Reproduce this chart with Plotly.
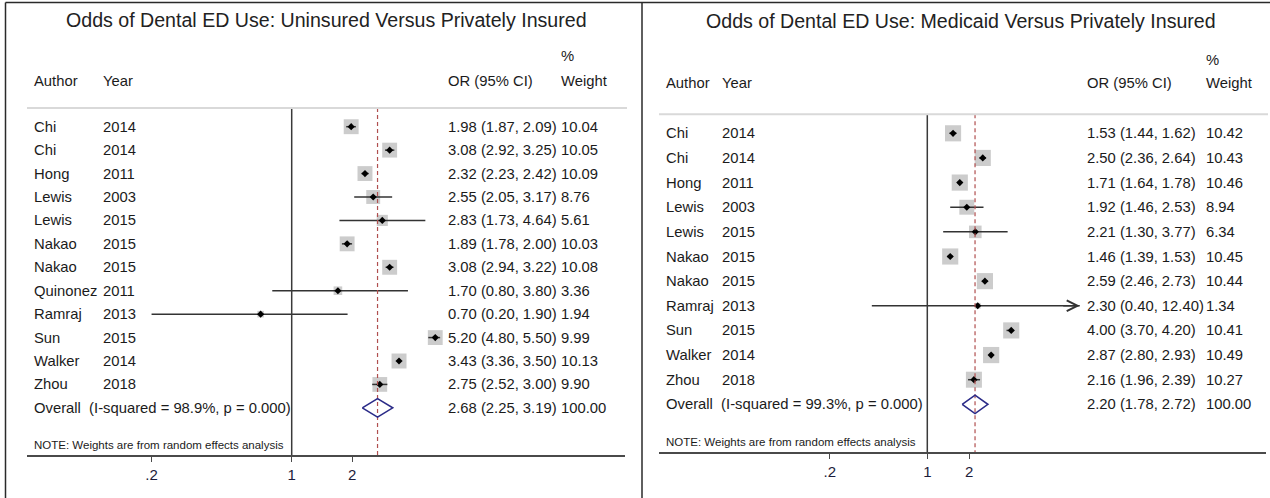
import numpy as np
import plotly.graph_objects as go

# ---------------- data ----------------
# Uninsured vs privately insured
unins_author = ["Chi", "Chi", "Hong", "Lewis", "Lewis", "Nakao", "Nakao",
                "Quinonez", "Ramraj", "Sun", "Walker", "Zhou"]
unins_year = [2014, 2014, 2011, 2003, 2015, 2015, 2015, 2011, 2013, 2015, 2014, 2018]
unins_or = [1.98, 3.08, 2.32, 2.55, 2.83, 1.89, 3.08, 1.70, 0.70, 5.20, 3.43, 2.75]
unins_lo = [1.87, 2.92, 2.23, 2.05, 1.73, 1.78, 2.94, 0.80, 0.20, 4.80, 3.36, 2.52]
unins_hi = [2.09, 3.25, 2.42, 3.17, 4.64, 2.00, 3.22, 3.80, 1.90, 5.50, 3.50, 3.00]
unins_weight = [10.04, 10.05, 10.09, 8.76, 5.61, 10.03, 10.08, 3.36, 1.94, 9.99, 10.13, 9.90]
unins_overall = [2.68, 2.25, 3.19]
unins_i2 = 98.9
unins_p = 0.000

# Medicaid vs privately insured
medic_author = ["Chi", "Chi", "Hong", "Lewis", "Lewis", "Nakao", "Nakao",
                "Ramraj", "Sun", "Walker", "Zhou"]
medic_year = [2014, 2014, 2011, 2003, 2015, 2015, 2015, 2013, 2015, 2014, 2018]
medic_or = [1.53, 2.50, 1.71, 1.92, 2.21, 1.46, 2.59, 2.30, 4.00, 2.87, 2.16]
medic_lo = [1.44, 2.36, 1.64, 1.46, 1.30, 1.39, 2.46, 0.40, 3.70, 2.80, 1.96]
medic_hi = [1.62, 2.64, 1.78, 2.53, 3.77, 1.53, 2.73, 12.40, 4.20, 2.93, 2.39]
medic_weight = [10.42, 10.43, 10.46, 8.94, 6.34, 10.45, 10.44, 1.34, 10.41, 10.49, 10.27]
medic_overall = [2.20, 1.78, 2.72]
medic_i2 = 99.3
medic_p = 0.000

tick_vals = [0.2, 1, 2]
tick_text = [".2", "1", "2"]

# ---------------- styling ----------------
W, H = 1270, 498
FONT = "Liberation Sans, Arial, sans-serif"
TXT = "#1b1b1b"
BOX = "#b7b7b7"
CI_COL = "#333333"
DIAMOND = "#2b2b88"
REF_DASH = "#b04f4f"
AXIS_COL = "#4a4a4a"
TEXT_DX = -2.5  # annotation boxes add a little left padding


def px(x):
    return x / W


def py(y):
    return 1 - y / H


fig = go.Figure()
annotations = []
shapes = []

panels = [
    dict(author=unins_author, year=unins_year, est=unins_or, lo=unins_lo, hi=unins_hi,
         w=unins_weight, overall=unins_overall, i2=unins_i2, p=unins_p,
         title="Odds of Dental ED Use: Uninsured Versus Privately Insured",
         xs="x", ys="y", xa="xaxis", ya="yaxis",
         row0=126.7, step=23.43, x_lo=27, x_hi=625, x_one=291.7, dec=200.5,
         axis_y=455.7, rule_y=108, title_xy=(326.5, 20.5),
         col_author=35, col_year=104, col_ci=449, col_w=562,
         head_y=80.5, pct_y=56.5, note_y=444.5, box_k=4.7),
    dict(author=medic_author, year=medic_year, est=medic_or, lo=medic_lo, hi=medic_hi,
         w=medic_weight, overall=medic_overall, i2=medic_i2, p=medic_p,
         title="Odds of Dental ED Use: Medicaid Versus Privately Insured",
         xs="x2", ys="y2", xa="xaxis2", ya="yaxis2",
         row0=133.3, step=24.64, x_lo=659, x_hi=1266, x_one=927.3, dec=139.4,
         axis_y=452.7, rule_y=114.3, title_xy=(961, 21.5),
         col_author=667, col_year=723.5, col_ci=1088, col_w=1207,
         head_y=83.5, pct_y=59.5, note_y=442.3, box_k=5.0),
]

layout_axes = {}
for P in panels:
    n = len(P["est"])
    rows = list(range(n))
    row_over = n
    to_row = lambda y, P=P: (y - P["row0"]) / P["step"]

    # Grey weight boxes
    fig.add_trace(go.Scatter(
        x=P["est"], y=rows, xaxis=P["xs"], yaxis=P["ys"], mode="markers",
        marker=dict(symbol="square", color=BOX,
                    size=[P["box_k"] * np.sqrt(w) for w in P["w"]],
                    line=dict(width=0)),
        hoverinfo="skip", showlegend=False))

    # Confidence intervals
    cx, cy = [], []
    for i in rows:
        cx += [P["lo"][i], P["hi"][i], None]
        cy += [i, i, None]
    fig.add_trace(go.Scatter(
        x=cx, y=cy, xaxis=P["xs"], yaxis=P["ys"], mode="lines",
        line=dict(color=CI_COL, width=1.5), hoverinfo="skip", showlegend=False))

    # Point estimates
    fig.add_trace(go.Scatter(
        x=P["est"], y=rows, xaxis=P["xs"], yaxis=P["ys"], mode="markers",
        marker=dict(symbol="diamond", color="black", size=5.5, line=dict(width=0)),
        hoverinfo="skip", showlegend=False))

    # Reference line at OR = 1
    top_r, bot_r = to_row(P["rule_y"]), to_row(P["axis_y"])
    fig.add_trace(go.Scatter(
        x=[1, 1], y=[top_r, bot_r], xaxis=P["xs"], yaxis=P["ys"], mode="lines",
        line=dict(color="#3a3a3a", width=1.5), hoverinfo="skip", showlegend=False))

    # Dashed line at the pooled estimate
    est, olo, ohi = P["overall"]
    fig.add_trace(go.Scatter(
        x=[est, est], y=[top_r, bot_r], xaxis=P["xs"], yaxis=P["ys"], mode="lines",
        line=dict(color=REF_DASH, width=1.2, dash="4px,3px"),
        hoverinfo="skip", showlegend=False))

    # Pooled-estimate diamond
    hh = 9.2 / P["step"]
    fig.add_trace(go.Scatter(
        x=[olo, est, ohi, est, olo],
        y=[row_over, row_over - hh, row_over, row_over + hh, row_over],
        xaxis=P["xs"], yaxis=P["ys"], mode="lines",
        line=dict(color=DIAMOND, width=1.6), hoverinfo="skip", showlegend=False))

    # Axes
    r_lo = (P["x_lo"] - P["x_one"]) / P["dec"]
    r_hi = (P["x_hi"] - P["x_one"]) / P["dec"]
    layout_axes[P["xa"]] = dict(
        type="log", domain=[px(P["x_lo"]), px(P["x_hi"])], range=[r_lo, r_hi],
        anchor="free", position=py(P["axis_y"]),
        showline=True, linecolor=AXIS_COL, linewidth=1.5,
        ticks="outside", ticklen=6, tickwidth=1, tickcolor=AXIS_COL,
        tickvals=tick_vals, ticktext=tick_text,
        tickfont=dict(family=FONT, size=15, color="#1c1c3a"),
        showgrid=False, zeroline=False, fixedrange=True)
    layout_axes[P["ya"]] = dict(
        domain=[0, 1], range=[to_row(H), to_row(0)], visible=False,
        anchor=P["xs"], showgrid=False, zeroline=False, fixedrange=True)

    # Header rule
    shapes.append(dict(type="line", xref="paper", yref="paper",
                       x0=px(P["x_lo"]), x1=px(min(P["x_hi"] + 2, W)),
                       y0=py(P["rule_y"]), y1=py(P["rule_y"]),
                       line=dict(color="#d9d9d9", width=2)))

    def txt(x, y, s, yref="paper", size=14.8, xanchor="left", color=TXT):
        dx = TEXT_DX if xanchor == "left" else 0
        annotations.append(dict(
            x=px(x + dx), y=y, xref="paper", yref=yref, text=s, showarrow=False,
            xanchor=xanchor, yanchor="middle", borderpad=0,
            font=dict(family=FONT, size=size, color=color)))

    # Title and headers
    txt(P["title_xy"][0], py(P["title_xy"][1]), P["title"], size=19.6,
        xanchor="center", color="#222222")
    txt(P["col_author"], py(P["head_y"]), "Author")
    txt(P["col_year"], py(P["head_y"]), "Year")
    txt(P["col_ci"], py(P["head_y"]), "OR (95% CI)")
    txt(P["col_w"], py(P["head_y"]), "Weight")
    txt(P["col_w"], py(P["pct_y"]), "%")

    # Study rows
    for i in rows:
        txt(P["col_author"], i, P["author"][i], yref=P["ys"])
        txt(P["col_year"], i, str(P["year"][i]), yref=P["ys"])
        txt(P["col_ci"], i, f"{P['est'][i]:.2f} ({P['lo'][i]:.2f}, {P['hi'][i]:.2f})",
            yref=P["ys"])
        txt(P["col_w"], i, f"{P['w'][i]:.2f}", yref=P["ys"])

    # Overall row
    txt(P["col_author"], row_over,
        f"Overall\u00a0 (I-squared = {P['i2']:.1f}%, p = {P['p']:.3f})", yref=P["ys"])
    txt(P["col_ci"], row_over, f"{est:.2f} ({olo:.2f}, {ohi:.2f})", yref=P["ys"])
    txt(P["col_w"], row_over, f"{100:.2f}", yref=P["ys"])

    # Footnote
    txt(P["col_author"], py(P["note_y"]),
        "NOTE: Weights are from random effects analysis", size=11.5)

# Arrow marking a confidence interval that runs past the plotted range
ramraj = medic_author.index("Ramraj")
annotations.append(dict(
    x=np.log10(medic_hi[ramraj]), y=ramraj, xref="x2", yref="y2",
    ax=-18, ay=0, text="", showarrow=True, arrowhead=5, arrowsize=1.4,
    arrowwidth=1.5, arrowcolor=CI_COL, standoff=0))

# Panel frames
frame = dict(color="#2a2a2a", width=1.5)
shapes += [
    dict(type="line", xref="paper", yref="paper", x0=px(5.5), x1=px(5.5),
         y0=py(2.5), y1=0, line=frame),
    dict(type="line", xref="paper", yref="paper", x0=px(642), x1=px(642),
         y0=py(2.5), y1=0, line=frame),
    dict(type="line", xref="paper", yref="paper", x0=px(5.5), x1=1,
         y0=py(2.5), y1=py(2.5), line=frame),
]

fig.update_layout(
    width=W, height=H, margin=dict(l=0, r=0, t=0, b=0),
    paper_bgcolor="white", plot_bgcolor="rgba(0,0,0,0)",
    template="none", showlegend=False,
    font=dict(family=FONT, color=TXT),
    annotations=annotations, shapes=shapes,
    **layout_axes)

fig.write_html("out.html", config={"displayModeBar": False})
